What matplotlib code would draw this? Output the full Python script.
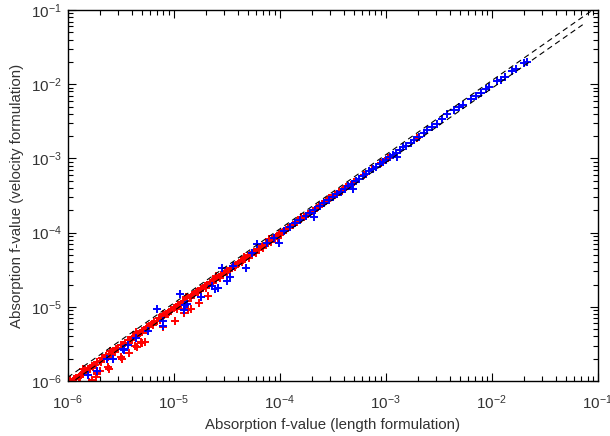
import numpy as np
import matplotlib
matplotlib.use("Agg")
import matplotlib.pyplot as plt
from matplotlib.ticker import LogLocator, FuncFormatter, NullFormatter

plt.rcParams["font.family"] = ["Liberation Sans", "DejaVu Sans"]
plt.rcParams["mathtext.fontset"] = "custom"
plt.rcParams["mathtext.rm"] = "Liberation Sans"
plt.rcParams["mathtext.it"] = "Liberation Sans:italic"
plt.rcParams["mathtext.default"] = "regular"

# red points: length vs velocity f-values (band along the diagonal)
red_x = [
    1.00e-6, 1.05e-6, 1.10e-6, 1.15e-6, 1.20e-6, 1.27e-6, 1.33e-6, 1.40e-6, 1.47e-6, 1.55e-6,
    1.62e-6, 1.70e-6, 1.80e-6, 1.90e-6, 2.00e-6, 2.10e-6, 2.20e-6, 2.30e-6, 2.45e-6, 2.60e-6,
    2.70e-6, 2.85e-6, 3.00e-6, 3.15e-6, 3.30e-6, 3.50e-6, 3.70e-6, 3.90e-6, 4.10e-6, 4.30e-6,
    4.50e-6, 4.80e-6, 5.00e-6, 5.30e-6, 5.60e-6, 5.90e-6, 6.20e-6, 6.50e-6, 6.90e-6, 7.30e-6,
    7.70e-6, 8.10e-6, 8.50e-6, 9.00e-6, 9.50e-6,
    1.00e-5, 1.05e-5, 1.10e-5, 1.16e-5, 1.22e-5, 1.28e-5, 1.34e-5, 1.41e-5, 1.48e-5, 1.55e-5,
    1.63e-5, 1.71e-5, 1.80e-5, 1.89e-5, 1.98e-5, 2.08e-5, 2.18e-5, 2.29e-5, 2.40e-5, 2.52e-5,
    2.65e-5, 2.78e-5, 2.92e-5, 3.06e-5, 3.21e-5, 3.37e-5, 3.54e-5, 3.72e-5, 3.90e-5, 4.10e-5,
    4.30e-5, 4.52e-5, 4.74e-5, 4.98e-5, 5.23e-5, 5.49e-5, 5.76e-5, 6.05e-5, 6.35e-5, 6.67e-5,
    7.00e-5, 7.35e-5, 7.72e-5, 8.10e-5, 8.51e-5, 8.93e-5, 9.38e-5, 9.85e-5,
    1.03e-4, 1.08e-4, 1.14e-4, 1.19e-4, 1.25e-4, 1.32e-4, 1.38e-4, 1.45e-4, 1.52e-4, 1.60e-4,
    1.68e-4, 1.76e-4, 1.85e-4, 1.94e-4, 2.04e-4, 2.14e-4, 2.25e-4, 2.36e-4, 2.48e-4, 2.60e-4,
    2.73e-4, 2.87e-4, 3.01e-4, 3.16e-4, 3.32e-4, 3.49e-4, 3.66e-4, 3.85e-4, 4.04e-4, 4.24e-4,
    5.00e-4, 6.20e-4, 7.40e-4, 9.00e-4, 1.05e-3, 1.36e-3, 1.96e-3,
    # second row of the band
    1.08e-6, 1.30e-6, 1.52e-6, 1.75e-6, 2.05e-6, 2.40e-6, 2.80e-6, 3.40e-6, 4.00e-6, 4.70e-6,
    5.50e-6, 6.40e-6, 7.50e-6, 8.80e-6,
    1.07e-5, 1.25e-5, 1.45e-5, 1.70e-5, 2.00e-5, 2.35e-5, 2.75e-5, 3.20e-5, 3.80e-5, 4.40e-5,
    5.10e-5, 6.00e-5, 7.00e-5, 8.20e-5, 9.60e-5,
    1.40e-6, 2.50e-6, 4.40e-6, 7.90e-6, 1.30e-5, 2.50e-5, 4.60e-5, 8.00e-5, 1.60e-4, 2.90e-4,
    # outliers below the diagonal
    1.24e-5, 1.35e-5, 7.90e-6, 1.02e-5, 5.40e-6, 5.00e-6, 4.50e-6, 3.80e-6, 3.20e-6, 3.25e-6,
    2.40e-6, 2.45e-6, 1.90e-6, 1.83e-6, 1.70e-6, 1.60e-6, 1.24e-5, 1.45e-5, 1.72e-5, 2.10e-5,
    4.30e-6, 4.90e-6, 2.00e-6, 1.88e-6,
]
red_y = [
    0.95e-6, 1.02e-6, 0.98e-6, 1.08e-6, 1.10e-6, 1.15e-6, 1.22e-6, 1.28e-6, 1.40e-6, 1.45e-6,
    1.52e-6, 1.62e-6, 1.66e-6, 1.80e-6, 1.86e-6, 2.02e-6, 2.05e-6, 2.20e-6, 2.30e-6, 2.50e-6,
    2.52e-6, 2.70e-6, 2.80e-6, 3.05e-6, 3.10e-6, 3.30e-6, 3.55e-6, 3.62e-6, 3.90e-6, 4.05e-6,
    4.30e-6, 4.45e-6, 4.80e-6, 4.95e-6, 5.30e-6, 5.60e-6, 5.80e-6, 6.25e-6, 6.45e-6, 7.00e-6,
    7.25e-6, 7.75e-6, 7.95e-6, 8.60e-6, 9.00e-6,
    0.96e-5, 1.00e-5, 1.06e-5, 1.09e-5, 1.18e-5, 1.21e-5, 1.30e-5, 1.33e-5, 1.44e-5, 1.47e-5,
    1.57e-5, 1.62e-5, 1.74e-5, 1.79e-5, 1.91e-5, 1.97e-5, 2.10e-5, 2.19e-5, 2.28e-5, 2.43e-5,
    2.51e-5, 2.69e-5, 2.76e-5, 2.95e-5, 3.05e-5, 3.25e-5, 3.36e-5, 3.58e-5, 3.72e-5, 3.95e-5,
    4.10e-5, 4.34e-5, 4.52e-5, 4.79e-5, 4.98e-5, 5.28e-5, 5.50e-5, 5.82e-5, 6.05e-5, 6.42e-5,
    6.66e-5, 7.08e-5, 7.35e-5, 7.80e-5, 8.10e-5, 8.60e-5, 8.95e-5, 9.45e-5,
    0.99e-4, 1.03e-4, 1.10e-4, 1.14e-4, 1.21e-4, 1.26e-4, 1.33e-4, 1.39e-4, 1.47e-4, 1.53e-4,
    1.62e-4, 1.69e-4, 1.79e-4, 1.86e-4, 1.97e-4, 2.05e-4, 2.17e-4, 2.26e-4, 2.40e-4, 2.49e-4,
    2.64e-4, 2.75e-4, 2.91e-4, 3.03e-4, 3.21e-4, 3.34e-4, 3.54e-4, 3.69e-4, 3.91e-4, 4.06e-4,
    4.75e-4, 5.95e-4, 7.10e-4, 8.60e-4, 1.00e-3, 1.30e-3, 1.90e-3,
    0.92e-6, 1.12e-6, 1.32e-6, 1.55e-6, 1.80e-6, 2.10e-6, 2.50e-6, 3.05e-6, 3.55e-6, 4.20e-6,
    4.90e-6, 5.70e-6, 6.70e-6, 7.90e-6,
    0.95e-5, 1.12e-5, 1.30e-5, 1.52e-5, 1.80e-5, 2.12e-5, 2.47e-5, 2.88e-5, 3.42e-5, 3.98e-5,
    4.60e-5, 5.40e-5, 6.30e-5, 7.40e-5, 8.60e-5,
    1.45e-6, 2.58e-6, 4.55e-6, 8.10e-6, 1.34e-5, 2.57e-5, 4.72e-5, 8.20e-5, 1.63e-4, 2.95e-4,
    9.30e-6, 9.10e-6, 5.30e-6, 6.40e-6, 3.40e-6, 3.30e-6, 2.90e-6, 2.40e-6, 2.10e-6, 1.98e-6,
    1.55e-6, 1.45e-6, 1.24e-6, 1.13e-6, 1.02e-6, 0.96e-6, 8.20e-6, 9.30e-6, 1.12e-5, 1.40e-5,
    2.95e-6, 3.35e-6, 1.36e-6, 1.28e-6,
]

# blue points: band at larger f-values plus scattered low values
blue_x = [
    1.10e-4, 1.25e-4, 1.40e-4, 1.55e-4, 1.75e-4, 1.95e-4, 2.15e-4, 2.40e-4, 2.62e-4, 2.90e-4,
    3.20e-4, 3.45e-4, 3.75e-4, 4.10e-4, 4.45e-4, 4.80e-4, 5.20e-4, 5.60e-4, 6.05e-4, 6.50e-4,
    7.00e-4, 7.55e-4, 8.10e-4, 8.75e-4, 9.40e-4, 1.01e-3, 1.09e-3, 1.17e-3, 1.26e-3, 1.35e-3,
    1.44e-3, 1.55e-3, 1.72e-3, 1.85e-3, 2.06e-3, 2.30e-3, 2.47e-3, 2.75e-3, 3.07e-3, 3.42e-3,
    3.80e-3, 4.40e-3, 4.90e-3, 5.30e-3, 6.30e-3, 7.05e-3, 7.85e-3, 8.90e-3, 9.40e-3, 1.13e-2,
    1.21e-2, 1.33e-2, 1.56e-2, 1.68e-2, 2.01e-2, 2.16e-2,
    3.60e-5, 5.50e-5, 7.50e-5, 8.80e-5,
    # scattered points
    1.14e-5, 6.90e-6, 1.24e-5, 1.29e-5, 7.90e-6, 8.00e-6, 5.70e-6, 4.40e-6, 3.70e-6, 3.30e-6,
    3.40e-6, 2.65e-6, 2.35e-6, 1.88e-6, 1.54e-6, 2.84e-5, 3.15e-5, 3.40e-5, 4.80e-5, 6.10e-5,
    9.80e-5, 2.10e-4, 2.60e-5, 2.45e-5, 2.30e-5, 1.80e-5, 1.32e-5, 4.90e-4, 1.27e-3,
]
blue_y = [
    1.05e-4, 1.18e-4, 1.35e-4, 1.47e-4, 1.68e-4, 1.85e-4, 2.05e-4, 2.30e-4, 2.50e-4, 2.78e-4,
    3.05e-4, 3.30e-4, 3.55e-4, 3.92e-4, 4.25e-4, 4.55e-4, 4.98e-4, 5.35e-4, 5.75e-4, 6.22e-4,
    6.70e-4, 7.20e-4, 7.70e-4, 8.35e-4, 9.00e-4, 9.65e-4, 1.04e-3, 1.12e-3, 1.20e-3, 1.29e-3,
    1.41e-3, 1.47e-3, 1.60e-3, 1.77e-3, 1.96e-3, 2.18e-3, 2.41e-3, 2.62e-3, 2.91e-3, 3.37e-3,
    3.97e-3, 4.50e-3, 4.95e-3, 5.20e-3, 6.30e-3, 6.90e-3, 7.70e-3, 8.50e-3, 9.25e-3, 1.10e-2,
    1.14e-2, 1.26e-2, 1.52e-2, 1.59e-2, 1.91e-2, 2.01e-2,
    3.50e-5, 5.30e-5, 7.20e-5, 8.50e-5,
    1.49e-5, 9.30e-6, 9.00e-6, 1.06e-5, 5.50e-6, 6.40e-6, 4.70e-6, 3.80e-6, 3.05e-6, 2.70e-6,
    2.60e-6, 1.98e-6, 1.98e-6, 1.36e-6, 1.20e-6, 3.33e-5, 2.23e-5, 2.50e-5, 3.30e-5, 7.00e-5,
    7.20e-5, 1.63e-4, 1.79e-5, 1.75e-5, 1.90e-5, 1.36e-5, 1.09e-5, 3.90e-4, 1.04e-3,
]

# dashed guide lines around y = x
upper_x = [1e-6, 1e-1]
upper_y = [1.12e-6, 1.12e-1]
lower_x = [1e-6, 7.2e-2]
lower_y = [0.88e-6, 6.34e-2]

text_color = "#333333"

fig = plt.figure(figsize=(6.1, 4.36), dpi=100)
ax = fig.add_axes([0.111, 0.126, 0.869, 0.851])

ax.plot(red_x, red_y, linestyle="none", marker="+", color="#ff0000",
        markersize=5.5, markeredgewidth=1.4, zorder=2)
ax.plot(blue_x, blue_y, linestyle="none", marker="+", color="#0000ff",
        markersize=5.5, markeredgewidth=1.4, zorder=2)

ax.plot(upper_x, upper_y, color="black", linestyle="--", linewidth=0.8,
        dashes=(5, 3.5), zorder=3)
ax.plot(lower_x, lower_y, color="black", linestyle="--", linewidth=0.8,
        dashes=(5, 3.5), zorder=3)

ax.set_xscale("log")
ax.set_yscale("log")
ax.set_xlim(1e-6, 1e-1)
ax.set_ylim(1e-6, 1e-1)

fmt = FuncFormatter(lambda v, pos: r"$10^{%d}$" % round(np.log10(v)))
for axis in (ax.xaxis, ax.yaxis):
    axis.set_major_locator(LogLocator(base=10, numticks=10))
    axis.set_minor_locator(LogLocator(base=10, subs=np.arange(2, 10), numticks=10))
    axis.set_major_formatter(fmt)
    axis.set_minor_formatter(NullFormatter())

ax.tick_params(which="both", direction="in", top=True, right=True,
               colors="black", labelcolor=text_color, labelsize=11)
ax.tick_params(which="major", length=6, width=0.8)
ax.tick_params(which="minor", length=3.5, width=0.8)
ax.tick_params(axis="x", pad=9)
ax.tick_params(axis="y", pad=4)

for sp in ax.spines.values():
    sp.set_linewidth(1.0)
    sp.set_color("black")

ax.set_xlabel("Absorption f-value (length formulation)", fontsize=10.8,
              color=text_color, labelpad=4)
ax.set_ylabel("Absorption f-value (velocity formulation)", fontsize=10.8,
              color=text_color, labelpad=5)

fig.savefig("out.png", dpi=100)
